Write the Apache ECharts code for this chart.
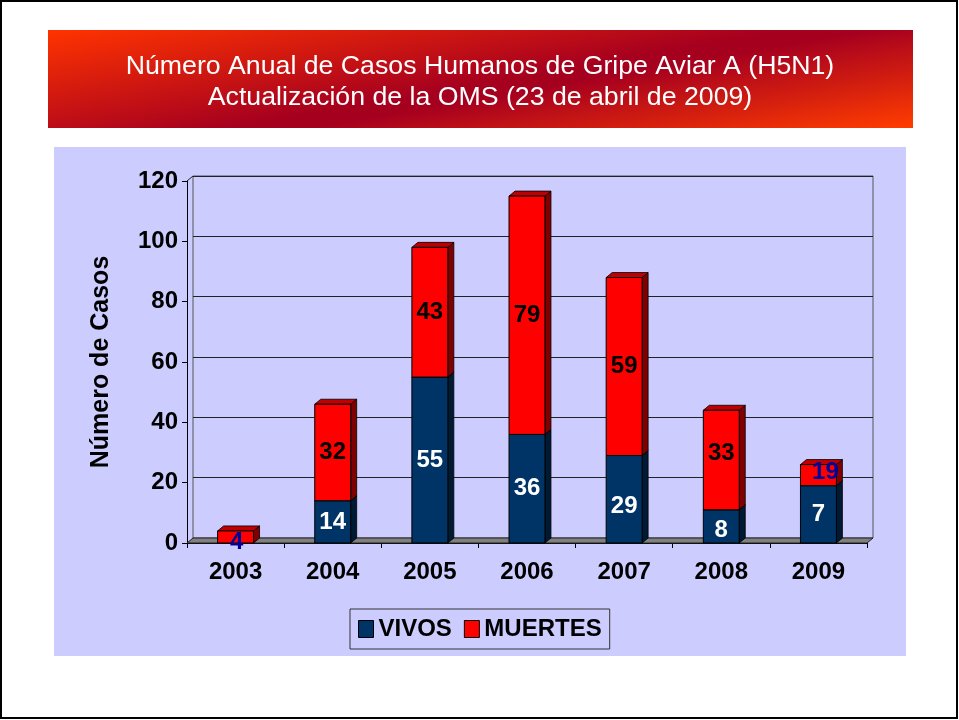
<!DOCTYPE html>
<html>
<head>
<meta charset="utf-8">
<script src="https://cdn.jsdelivr.net/npm/echarts@6/dist/echarts.min.js"></script>
<style>html,body{margin:0;padding:0;background:#fff}#c{width:959px;height:720px}</style>
</head>
<body>
<div id="c"></div>
<script>
// ---- data ----
const years = ['2003', '2004', '2005', '2006', '2007', '2008', '2009'];
const vivos = [0, 14, 55, 36, 29, 11, 19];
const muertes = [4, 32, 43, 79, 59, 33, 7];
const vivosLabels = ['', '14', '55', '36', '29', '8', '7'];
const muertesLabels = ['4', '32', '43', '79', '59', '33', '19'];
const yMin = 0, yMax = 120, yStep = 20;
const titleLines = ['Número Anual de Casos Humanos de Gripe Aviar A (H5N1)', 'Actualización de la OMS (23 de abril de 2009)'];
const yName = 'Número de Casos';
const seriesNames = ['VIVOS', 'MUERTES'];

// ---- layout / style ----
const FONT = '"Liberation Sans", Arial, Helvetica, sans-serif';
const FRONT = { left: 187, top: 181, right: 867, bottom: 543 };
const DX = 6, DY = -5;
const BAR_FRAC = 0.37;
const LAV = '#CCCCFF';
// special label styling (colour / small nudges) as in the original
const labelStyleMap = {
  MUERTES: { 0: { fill: '#000099', dx: 1, dy: 5 }, 6: { fill: '#000099', dx: 7, dy: -3 }, 5: { dy: -7 } },
  VIVOS: { 4: { dy: 7 }, 5: { dy: 4 } }
};

function makeRender(name, labels, cols, txtColor) {
  return function (params, api) {
    const i = api.value(0), b = api.value(1), t = api.value(2);
    if (!(t > b)) return { type: 'group', children: [] };
    const pb = api.coord([i, b]);
    const pt = api.coord([i, t]);
    const bw = api.size([1, 0])[0] * BAR_FRAC;
    const x0 = pb[0] - bw / 2, x1 = pb[0] + bw / 2;
    const yb = pb[1], yt = pt[1];
    const st = (labelStyleMap[name] || {})[params.dataIndex] || {};
    const children = [
      { type: 'polygon', shape: { points: [[x1, yb], [x1 + DX, yb + DY], [x1 + DX, yt + DY], [x1, yt]] },
        style: { fill: cols.side, stroke: '#000', lineWidth: 0.8 } },
      { type: 'polygon', shape: { points: [[x0, yt], [x0 + DX, yt + DY], [x1 + DX, yt + DY], [x1, yt]] },
        style: { fill: cols.top, stroke: '#000', lineWidth: 0.8 } },
      { type: 'rect', shape: { x: x0, y: yt, width: bw, height: yb - yt },
        style: { fill: cols.front, stroke: '#000', lineWidth: 1 } }
    ];
    const txt = labels[params.dataIndex];
    if (txt) {
      children.push({ type: 'text', z2: 20,
        x: (x0 + x1) / 2 + (st.dx || 0), y: (yb + yt) / 2 + (st.dy || 0),
        style: { text: txt, fill: st.fill || txtColor, font: 'bold 24px ' + FONT, align: 'center', verticalAlign: 'middle' } });
    }
    return { type: 'group', children };
  };
}

const chart = echarts.init(document.getElementById('c'), null, { renderer: 'canvas' });

const option = {
  animation: false,
  backgroundColor: '#fff',
  title: {
    text: titleLines.join('\n'),
    left: 480, top: 51, padding: 0,
    textAlign: 'center',
    textStyle: { color: '#fff', fontFamily: FONT, fontSize: 26.7, fontWeight: 'normal', lineHeight: 31 }
  },
  graphic: [
    { type: 'rect', z: -10, shape: { x: 54, y: 147, width: 852, height: 509 }, style: { fill: LAV } },
    { type: 'rect', z: -10, shape: { x: 48, y: 30, width: 865, height: 98 },
      style: { fill: new echarts.graphic.LinearGradient(252, -5, 294, 235, [
        { offset: 0, color: '#FF3300' }, { offset: 0.52, color: '#A6001F' }, { offset: 0.58, color: '#A6001F' }, { offset: 1, color: '#FF3C00' }
      ], true) } },
    { type: 'polygon', z: 1, shape: { points: [[FRONT.left, FRONT.bottom], [FRONT.left + DX, FRONT.bottom + DY], [FRONT.right + DX, FRONT.bottom + DY], [FRONT.right, FRONT.bottom]] },
      style: { fill: '#808080', stroke: '#222', lineWidth: 1 } },
    { type: 'line', z: 1, shape: { x1: FRONT.left, y1: FRONT.top, x2: FRONT.left + DX, y2: FRONT.top + DY }, style: { stroke: '#222', lineWidth: 1 } },
    { type: 'rect', z: 50, shape: { x: 1, y: 1, width: 956, height: 717 }, style: { fill: 'none', stroke: '#000', lineWidth: 2 } }
  ],
  legend: {
    data: seriesNames.map(n => ({ name: n, icon: 'rect' })),
    left: 350, top: 609,
    padding: [8, 8],
    itemWidth: 15, itemHeight: 17, itemGap: 12,
    backgroundColor: LAV, borderColor: '#333', borderWidth: 1,
    textStyle: { fontFamily: FONT, fontSize: 24, fontWeight: 'bold', color: '#000' },
    itemStyle: { borderColor: '#000', borderWidth: 1 }
  },
  grid: [
    { left: FRONT.left, top: FRONT.top, width: FRONT.right - FRONT.left, height: FRONT.bottom - FRONT.top, containLabel: false },
    { left: FRONT.left + DX, top: FRONT.top + DY, width: FRONT.right - FRONT.left, height: FRONT.bottom - FRONT.top,
      show: true, backgroundColor: LAV, borderColor: '#555', borderWidth: 1, z: -5 }
  ],
  xAxis: [
    { type: 'category', gridIndex: 0, data: years, boundaryGap: true,
      axisLine: { show: true, lineStyle: { color: '#000', width: 1 } },
      axisTick: { show: true, length: 5, lineStyle: { color: '#000' } },
      axisLabel: { margin: 17, fontFamily: FONT, fontSize: 24, fontWeight: 'bold', color: '#000' },
      splitLine: { show: false } },
    { type: 'category', gridIndex: 1, data: years, show: true,
      axisLine: { show: false }, axisTick: { show: false }, axisLabel: { show: false }, splitLine: { show: false } }
  ],
  yAxis: [
    { type: 'value', gridIndex: 0, min: yMin, max: yMax, interval: yStep,
      name: yName, nameLocation: 'middle', nameGap: 73, nameRotate: 90,
      nameTextStyle: { fontFamily: FONT, fontSize: 25, fontWeight: 'bold', color: '#000' },
      axisLine: { show: true, lineStyle: { color: '#000', width: 1 } },
      axisTick: { show: true, length: 5, lineStyle: { color: '#000' } },
      axisLabel: { margin: 9, fontFamily: FONT, fontSize: 24, fontWeight: 'bold', color: '#000' },
      splitLine: { show: false } },
    { type: 'value', gridIndex: 1, min: yMin, max: yMax, interval: yStep, show: true,
      axisLine: { show: false }, axisTick: { show: false }, axisLabel: { show: false },
      splitLine: { show: true, lineStyle: { color: '#222', width: 1 } } }
  ],
  series: [
    { name: seriesNames[0], type: 'custom', xAxisIndex: 0, yAxisIndex: 0, z: 3,
      itemStyle: { color: '#003366' },
      encode: { x: 0, y: [1, 2] },
      data: years.map((y, i) => [i, 0, vivos[i]]),
      renderItem: makeRender('VIVOS', vivosLabels, { front: '#003366', side: '#001A33', top: '#002A55' }, '#fff') },
    { name: seriesNames[1], type: 'custom', xAxisIndex: 0, yAxisIndex: 0, z: 4,
      itemStyle: { color: '#FF0000' },
      encode: { x: 0, y: [1, 2] },
      data: years.map((y, i) => [i, vivos[i], vivos[i] + muertes[i]]),
      renderItem: makeRender('MUERTES', muertesLabels, { front: '#FF0000', side: '#800000', top: '#C00000' }, '#000') }
  ]
};
chart.setOption(option);
</script>
</body>
</html>
